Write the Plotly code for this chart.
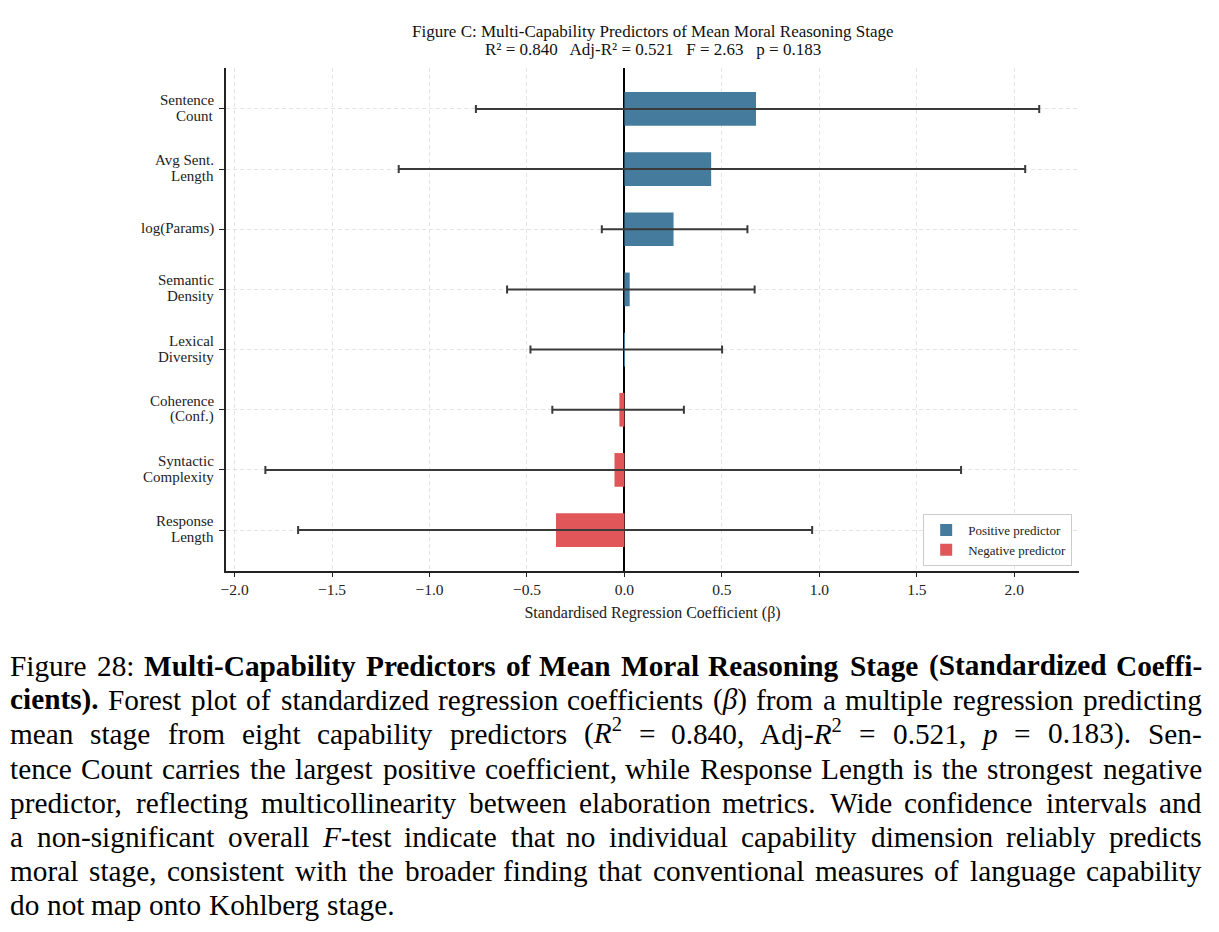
import re
import plotly.graph_objects as go

predictors = ["Sentence<br>Count", "Avg Sent.<br>Length", "log(Params)", "Semantic<br>Density",
              "Lexical<br>Diversity", "Coherence<br>(Conf.)", "Syntactic<br>Complexity", "Response<br>Length"]
beta = [0.675, 0.445, 0.252, 0.027, 0.002, -0.026, -0.051, -0.351]
ci_low = [-0.762, -1.158, -0.116, -0.602, -0.482, -0.370, -1.842, -1.674]
ci_high = [2.128, 2.056, 0.631, 0.668, 0.501, 0.305, 1.727, 0.963]
x_ticks = [-2.0, -1.5, -1.0, -0.5, 0.0, 0.5, 1.0, 1.5, 2.0]

caption = [
    "Figure 28: <b>Multi-Capability Predictors of Mean Moral Reasoning Stage (Standardized Coeffi-</b>",
    "<b>cients).</b> Forest plot of standardized regression coefficients (<i>β</i>) from a multiple regression predicting",
    "mean stage from eight capability predictors (<i>R</i><sup>2</sup> = 0.840, Adj-<i>R</i><sup>2</sup> = 0.521, <i>p</i> = 0.183). Sen-",
    "tence Count carries the largest positive coefficient, while Response Length is the strongest negative",
    "predictor, reflecting multicollinearity between elaboration metrics. Wide confidence intervals and",
    "a non-significant overall <i>F</i>-test indicate that no individual capability dimension reliably predicts",
    "moral stage, consistent with the broader finding that conventional measures of language capability",
    "do not map onto Kohlberg stage.",
]

BLUE = "#457b9d"
RED = "#e15759"
SERIF = "Liberation Serif, Times New Roman, serif"

W, H = 1219, 932
ML, MR, MT, MB = 226, 140, 68, 361
PW, PH = W - ML - MR, H - MT - MB

fig = go.Figure()
for label, col, sel in [("Positive predictor", BLUE, lambda b: b >= 0),
                        ("Negative predictor", RED, lambda b: b < 0)]:
    idx = [i for i, b in enumerate(beta) if sel(b)]
    fig.add_trace(go.Bar(
        y=[predictors[i] for i in idx],
        x=[beta[i] for i in idx],
        orientation="h",
        name=label,
        width=0.56,
        marker=dict(color=col, line=dict(width=0)),
        error_x=dict(type="data", symmetric=False,
                     array=[ci_high[i] - beta[i] for i in idx],
                     arrayminus=[beta[i] - ci_low[i] for i in idx],
                     color="#3a3a3a", thickness=2, width=4),
    ))


def px_x(p):
    return (p - ML) / PW


def px_y(p):
    return (H - MB - p) / PH


fig.update_layout(
    width=W, height=H,
    margin=dict(l=ML, r=MR, t=MT, b=MB),
    paper_bgcolor="white", plot_bgcolor="white",
    barmode="overlay",
    font=dict(family=SERIF, color="#222", size=15),
    legend=dict(x=0.992, xanchor="right", y=0.01, yanchor="bottom",
                bgcolor="white", bordercolor="#cccccc", borderwidth=1,
                font=dict(family=SERIF, size=13, color="#222"),
                traceorder="normal", itemwidth=34),
    showlegend=True,
)
fig.add_annotation(text="Figure C: Multi-Capability Predictors of Mean Moral Reasoning Stage",
                   xref="paper", yref="paper", x=px_x(653), y=px_y(31), xanchor="center", yanchor="middle",
                   showarrow=False, font=dict(family=SERIF, size=17, color="#111"))
fig.add_annotation(text="R² = 0.840   Adj-R² = 0.521   F = 2.63   p = 0.183",
                   xref="paper", yref="paper", x=px_x(653), y=px_y(49), xanchor="center", yanchor="middle",
                   showarrow=False, font=dict(family=SERIF, size=17, color="#111"))

fig.update_xaxes(
    range=[-2.044, 2.332], tickvals=x_ticks,
    ticktext=[f"{v:.1f}".replace("-", "\u2212") for v in x_ticks],
    showgrid=True, gridcolor="#e4e4e4", griddash="4px,3px", gridwidth=1,
    zeroline=True, zerolinecolor="black", zerolinewidth=1.5,
    showline=True, linecolor="#222", linewidth=1.5,
    ticks="outside", ticklen=4, tickcolor="#222",
    tickfont=dict(size=15.5, family=SERIF),
    title=dict(text="Standardised Regression Coefficient (β)", font=dict(size=16, family=SERIF), standoff=9),
)
fig.update_yaxes(
    type="category", categoryorder="array", categoryarray=predictors,
    range=[7.68, -0.68], showticklabels=False,
    showgrid=True, gridcolor="#e4e4e4", griddash="4px,3px", gridwidth=1,
    showline=True, linecolor="#222", linewidth=1.5,
    ticks="outside", ticklen=5, tickcolor="#222",
)

# y tick labels, one annotation per line for tighter line spacing
for cat in predictors:
    parts = cat.split("<br>")
    n = len(parts)
    for j, part in enumerate(parts):
        fig.add_annotation(text=part, xref="paper", yref="y", x=px_x(216), y=cat,
                           xanchor="right", yanchor="middle", showarrow=False,
                           yshift=-(j - (n - 1) / 2) * 16 + 1,
                           font=dict(family=SERIF, size=15, color="#222"))

# ---- caption, justified word by word (Times metrics, 1/1000 em) ----
REG = dict(zip(" !(),-.:0123456789=", [250, 333, 333, 333, 250, 333, 250, 278] + [500] * 10 + [564]))
REG.update(dict(zip("ABCDEFGHIJKLMNOPQRSTUVWXYZ",
                    [722, 667, 667, 722, 611, 556, 722, 722, 333, 389, 722, 611, 889, 722, 722, 556, 722, 667,
                     556, 611, 722, 722, 944, 722, 722, 611])))
REG.update(dict(zip("abcdefghijklmnopqrstuvwxyz",
                    [444, 500, 444, 500, 444, 333, 500, 500, 278, 278, 500, 278, 778, 500, 500, 500, 500, 333,
                     389, 278, 500, 500, 722, 500, 500, 444])))
BOLD = dict(REG)
BOLD.update(dict(zip("ABCDEFGHIJKLMNOPQRSTUVWXYZ",
                     [722, 667, 722, 722, 667, 611, 778, 778, 389, 500, 778, 667, 944, 722, 778, 611, 778, 722,
                      556, 667, 722, 722, 1000, 722, 722, 667])))
BOLD.update(dict(zip("abcdefghijklmnopqrstuvwxyz",
                     [500, 556, 444, 556, 444, 333, 500, 556, 278, 333, 556, 278, 833, 556, 500, 556, 556, 444,
                      389, 333, 556, 500, 722, 500, 500, 444])))
ITAL = dict(REG)
ITAL.update({"R": 611, "F": 611, "p": 500, "β": 500})

CAP_FS = 29.3
X0, X1 = 9, 1203


def word_width(html):
    w = 0.0
    bold = ital = sup = False
    for tok in re.split(r"(<[^>]+>)", html):
        if tok.startswith("<"):
            t = tok.strip("<>/").lower()
            on = not tok.startswith("</")
            if t == "b":
                bold = on
            elif t == "i":
                ital = on
            elif t == "sup":
                sup = on
            continue
        for ch in tok:
            tbl = BOLD if bold else (ITAL if ital else REG)
            w += tbl.get(ch, 500) * (0.7 if sup else 1.0)
    return w / 1000 * CAP_FS


def tokens(line):
    words, open_tags = [], []
    for raw in line.split(" "):
        w = "".join(f"<{t}>" for t in open_tags) + raw
        for tag in re.findall(r"<(/?)(\w+)>", raw):
            if tag[0] == "/":
                if tag[1] in open_tags:
                    open_tags.remove(tag[1])
            else:
                open_tags.append(tag[1])
        w += "".join(f"</{t}>" for t in reversed(open_tags))
        words.append(w)
    return words


for k, line in enumerate(caption):
    ycen = 666 + 34.2 * k
    ybase = px_y(ycen + 17)
    words = tokens(line)
    widths = [word_width(w) for w in words]
    n = len(words)
    last_line = (k == len(caption) - 1)
    gap = 0.25 * CAP_FS if last_line else (X1 - X0 - sum(widths)) / (n - 1)
    lefts, x = [], X0
    for ww in widths:
        lefts.append(x)
        x += ww + gap
    rights, x = [0] * n, X1
    for j in range(n - 1, -1, -1):
        rights[j] = x
        x -= widths[j] + gap
    half = n // 2
    for j, w in enumerate(words):
        use_right = (not last_line) and j >= half
        fig.add_annotation(
            text=w, xref="paper", yref="paper",
            x=px_x(rights[j] if use_right else lefts[j]),
            xanchor="right" if use_right else "left",
            y=ybase, yanchor="bottom",
            showarrow=False, align="left", borderpad=0,
            font=dict(family=SERIF, size=CAP_FS, color="black"),
        )

fig.write_html("out.html")
